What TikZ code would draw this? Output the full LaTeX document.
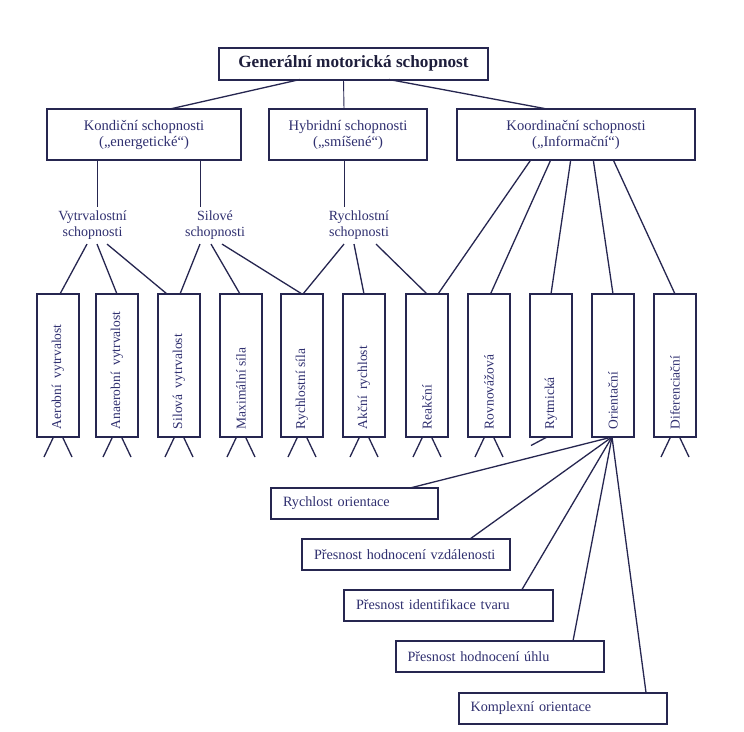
\documentclass[tikz,border=0pt]{standalone}
\usepackage{fontspec}
\setmainfont{Liberation Serif}
\usepackage{graphicx}
\definecolor{lncol}{RGB}{38,38,80}
\definecolor{txtcol}{RGB}{48,48,112}
\definecolor{ttlcol}{RGB}{30,30,60}
\begin{document}
\begin{tikzpicture}[x=1pt,y=-1pt,
  every node/.style={text=txtcol},
  box/.style={draw=lncol, line width=2pt, inner sep=0pt, outer sep=0pt},
  topbox/.style={box, minimum width=269pt, minimum height=32pt, text=ttlcol, font=\fontsize{17.2}{19}\selectfont\bfseries},
  midbox/.style={box, minimum height=51pt, align=center, font=\fontsize{14.6}{16}\selectfont},
  vbox/.style={box, minimum width=42pt, minimum height=143pt, font=\fontsize{13.5}{15}\selectfont},
  obox/.style={box, anchor=north west, minimum height=31pt, inner xsep=12pt, align=left, font=\fontsize{14.2}{16}\selectfont},
  lbl/.style={align=center, inner xsep=0pt, inner ysep=4pt, font=\fontsize{14}{16}\selectfont},
  conn/.style={draw=lncol, line width=1.3pt},
  thinconn/.style={draw=lncol, line width=0.9pt}
]
\fill[white] (0,0) rectangle (744,731);
\useasboundingbox (0,0) rectangle (744,731);

% top
\node[topbox] (top) at (353.5,63.5) {Generální motorická schopnost};

% level 2
\node[midbox, minimum width=194pt] (kond) at (144,134.5) {Kondiční schopnosti\\(„energetické“)};
\node[midbox, minimum width=158pt] (hyb) at (348,134.5) {Hybridní schopnosti\\(„smíšené“)};
\node[midbox, minimum width=238pt] (koord) at (576,134.5) {Koordinační schopnosti\\(„Informační“)};

% mid labels
\node[lbl] (vyt) at (92.5,225.5) {Vytrvalostní\\schopnosti};
\node[lbl] (sil) at (215,225.5) {Silové\\schopnosti};
\node[lbl] (rl) at (359,225.5) {Rychlostní\\schopnosti};

% vertical boxes
\newcommand{\vtext}[1]{\rotatebox{90}{\makebox[127pt][l]{#1}}}
\node[vbox] (b1) at (58,365.5) {\vtext{Aerobní\hspace{3pt} vytrvalost}};
\node[vbox] (b2) at (117,365.5) {\vtext{Anaerobní\hspace{3pt} vytrvalost}};
\node[vbox] (b3) at (179,365.5) {\vtext{Silová\hspace{3pt} vytrvalost}};
\node[vbox] (b4) at (241,365.5) {\vtext{Maximální síla}};
\node[vbox] (b5) at (302,365.5) {\vtext{Rychlostní síla}};
\node[vbox] (b6) at (364,365.5) {\vtext{Akční\hspace{3pt} rychlost}};
\node[vbox] (b7) at (427,365.5) {\vtext{Reakční}};
\node[vbox] (b8) at (489,365.5) {\vtext{Rovnovážová}};
\node[vbox] (b9) at (551,365.5) {\vtext{Rytmická}};
\node[vbox] (b10) at (613,365.5) {\vtext{Orientační}};
\node[vbox] (b11) at (675,365.5) {\vtext{Diferenciační}};

% orientation boxes
\node[obox, text width=143pt] (o1) at (271,488) {Rychlost orientace};
\node[obox, text width=184pt] (o2) at (302,539) {Přesnost hodnocení vzdálenosti};
\node[obox, text width=185pt] (o3) at (344,589.5) {Přesnost identifikace tvaru};
\node[obox, text width=185pt, inner xsep=11.5pt] (o4) at (396,641) {Přesnost hodnocení úhlu};
\node[obox, text width=185pt, inner xsep=11.5pt] (o5) at (459,692.5) {Komplexní orientace};

% top connectors
\draw[conn] ([xshift=-53.5pt]top.south) -- ([xshift=26pt]kond.north);
\draw[thinconn] ([xshift=-10pt]top.south) -- ([xshift=-4pt]hyb.north);
\draw[conn] ([xshift=35.5pt]top.south) -- ([xshift=-29pt]koord.north);

% level 2 to labels
\draw[thinconn] ([xshift=-47pt]kond.south) -- ([xshift=-47pt]kond.south |- vyt.north);
\draw[thinconn] ([xshift=56pt]kond.south) -- ([xshift=56pt]kond.south |- sil.north);
\draw[thinconn] ([xshift=-4pt]hyb.south) -- ([xshift=-4pt]hyb.south |- rl.north);

% labels to boxes
\draw[conn] ([xshift=-5.5pt]vyt.south) -- ([xshift=2pt]b1.north);
\draw[conn] ([xshift=4.5pt]vyt.south) -- (b2.north);
\draw[conn] ([xshift=14.5pt]vyt.south) -- ([xshift=-12pt]b3.north);
\draw[conn] ([xshift=-15pt]sil.south) -- ([xshift=1pt]b3.north);
\draw[conn] ([xshift=-4pt]sil.south) -- ([xshift=-1pt]b4.north);
\draw[conn] ([xshift=7pt]sil.south) -- (b5.north);
\draw[conn] ([xshift=-15pt]rl.south) -- ([xshift=1pt]b5.north);
\draw[conn] ([xshift=-5pt]rl.south) -- (b6.north);
\draw[conn] ([xshift=17pt]rl.south) -- (b7.north);

% coordination to boxes
\draw[conn] ([xshift=-45.3pt]koord.south) -- ([xshift=11pt]b7.north);
\draw[conn] ([xshift=-25.3pt]koord.south) -- ([xshift=1.5pt]b8.north);
\draw[conn] ([xshift=-5.3pt]koord.south) -- (b9.north);
\draw[conn] ([xshift=17.3pt]koord.south) -- (b10.north);
\draw[conn] ([xshift=37.3pt]koord.south) -- (b11.north);

% legs
\foreach \b in {b1,b2,b3,b4,b5,b6,b7,b8,b11}{
  \draw[conn] ([xshift=-4.5pt]\b.south) -- ++(-9.5,20);
  \draw[conn] ([xshift=4.5pt]\b.south) -- ++(9.5,20);
}
\draw[conn] ([xshift=-4pt]b9.south) -- ++(-16,8.5);

% orientation connectors
\draw[conn] ([xshift=-1pt]b10.south) -- ([xshift=139pt]o1.north west);
\draw[conn] ([xshift=-1pt]b10.south) -- ([xshift=168pt]o2.north west);
\draw[conn] ([xshift=-1pt]b10.south) -- ([xshift=178pt]o3.north west);
\draw[conn] ([xshift=-1pt]b10.south) -- ([xshift=177pt]o4.north west);
\draw[conn] ([xshift=-1pt]b10.south) -- ([xshift=187pt]o5.north west);
\end{tikzpicture}
\end{document}
